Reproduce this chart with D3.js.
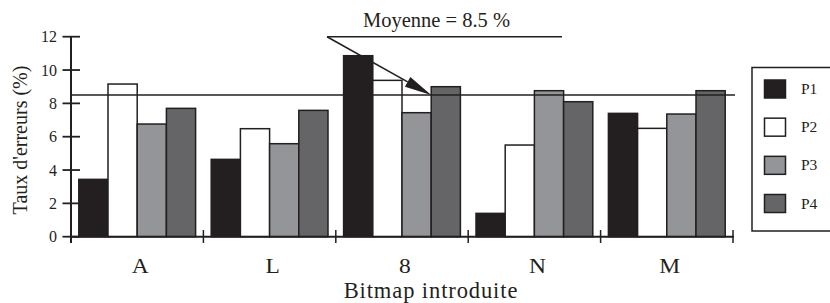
<!DOCTYPE html>
<html>
<head>
<meta charset="utf-8">
<script src="https://cdn.jsdelivr.net/npm/d3@7"></script>
<style>
  html, body { margin: 0; padding: 0; background: #fff; }
  svg { display: block; }
  svg text { font-family: "Liberation Serif", "Times New Roman", Times, "DejaVu Serif", serif !important; fill: #231f20; }
</style>
</head>
<body>
<svg id="chart" width="830" height="303"></svg>
<script>
// ---- Data ----
const categories = ["A", "L", "8", "N", "M"];
const seriesNames = ["P1", "P2", "P3", "P4"];
const P1 = [3.44, 4.64, 10.86, 1.40, 7.40];
const P2 = [9.16, 6.48, 9.38, 5.50, 6.50];
const P3 = [6.76, 5.58, 7.44, 8.76, 7.36];
const P4 = [7.70, 7.58, 9.00, 8.10, 8.76];
const yTicks = [0, 2, 4, 6, 8, 10, 12];
const meanValue = 8.5;
const meanLabel = "Moyenne = 8.5 %";
const xTitle = "Bitmap introduite";
const yTitle = "Taux d'erreurs (%)";

const seriesValues = [P1, P2, P3, P4];
const colors = ["#231f20", "#ffffff", "#949598", "#656567"];
const ink = "#231f20";
const serif = "'Liberation Serif', 'Times New Roman', Times, serif";

const svg = d3.select("#chart");

const x0 = d3.scaleBand().domain(categories).range([71, 733]).padding(0);
const groupPad = 7.8;
const x1 = d3.scaleBand().domain(seriesNames)
  .range([groupPad, x0.bandwidth() - groupPad]).padding(0);
const y = d3.scaleLinear().domain([0, 12]).range([236.7, 36.7]);

// Bars
const rows = categories.map((c, i) => ({
  cat: c,
  vals: seriesNames.map((s, j) => ({ s, v: seriesValues[j][i], color: colors[j] }))
}));
const g = svg.append("g");
const grp = g.selectAll("g.cat").data(rows).join("g")
  .attr("transform", d => `translate(${x0(d.cat)},0)`);
grp.selectAll("rect").data(d => d.vals).join("rect")
  .attr("x", d => x1(d.s))
  .attr("y", d => y(d.v))
  .attr("width", x1.bandwidth())
  .attr("height", d => y(0) - y(d.v))
  .attr("fill", d => d.color)
  .attr("stroke", ink)
  .attr("stroke-width", 1.5);

// Mean line
svg.append("line")
  .attr("x1", 71).attr("x2", 735)
  .attr("y1", y(meanValue)).attr("y2", y(meanValue))
  .attr("stroke", ink).attr("stroke-width", 1.6);

// Y axis
const yAxis = d3.axisLeft(y).tickValues(yTicks).tickSize(0).tickPadding(14);
const ya = svg.append("g").attr("transform", "translate(71,0)").call(yAxis)
  .attr("font-family", serif).attr("font-size", 16);
ya.select(".domain").remove();
ya.selectAll("text").attr("fill", ink);
svg.append("g").selectAll("line").data(yTicks).join("line")
  .attr("x1", 62.5).attr("x2", 80)
  .attr("y1", d => y(d)).attr("y2", d => y(d))
  .attr("stroke", ink).attr("stroke-width", 1.8);
svg.append("line").attr("x1", 71).attr("x2", 71)
  .attr("y1", y(12) - 0.5).attr("y2", 243)
  .attr("stroke", ink).attr("stroke-width", 2);

// X axis
svg.append("line").attr("x1", 71).attr("x2", 734)
  .attr("y1", y(0)).attr("y2", y(0))
  .attr("stroke", ink).attr("stroke-width", 2);
const bounds = categories.slice(1).map(c => x0(c)).concat([x0.range()[1]]);
svg.append("g").selectAll("line").data(bounds).join("line")
  .attr("x1", d => d).attr("x2", d => d)
  .attr("y1", 230).attr("y2", 243)
  .attr("stroke", ink).attr("stroke-width", 1.5);
svg.append("g").attr("font-family", serif).selectAll("text").data(categories).join("text")
  .attr("x", d => x0(d) + x0.bandwidth() / 2 + 3)
  .attr("y", 273)
  .attr("text-anchor", "middle")
  .attr("font-size", 21)
  .attr("transform", d => `translate(${x0(d) + x0.bandwidth() / 2 + 3},273) scale(1.12,1) translate(${-(x0(d) + x0.bandwidth() / 2 + 3)},-273)`)
  .text(d => d);

// Axis titles
svg.append("text").attr("x", 431).attr("y", 298).attr("font-family", serif)
  .attr("text-anchor", "middle").attr("font-size", 22.5)
  .attr("letter-spacing", 0.9).text(xTitle);
svg.append("text").attr("font-family", serif)
  .attr("transform", "translate(27,140) rotate(-90)")
  .attr("text-anchor", "middle").attr("font-size", 20).text(yTitle);

// Annotation
const tipX = x0("8") + x1("P4");
const tipY = y(meanValue);
const startX = 327, startY = y(12);
svg.append("line").attr("x1", startX).attr("x2", 562)
  .attr("y1", startY).attr("y2", startY)
  .attr("stroke", ink).attr("stroke-width", 1.6);
const ang = Math.atan2(tipY - startY, tipX - startX);
const headLen = 27, headHalf = 5.5;
const bx = tipX - headLen * Math.cos(ang), by = tipY - headLen * Math.sin(ang);
svg.append("line").attr("x1", startX).attr("y1", startY)
  .attr("x2", bx).attr("y2", by)
  .attr("stroke", ink).attr("stroke-width", 1.6);
svg.append("path")
  .attr("d", d3.line()([
    [tipX, tipY],
    [bx - headHalf * Math.sin(ang), by + headHalf * Math.cos(ang)],
    [bx + headHalf * Math.sin(ang), by - headHalf * Math.cos(ang)]
  ]) + "Z")
  .attr("fill", ink);
svg.append("text").attr("x", 436.5).attr("y", 27).attr("font-family", serif)
  .attr("text-anchor", "middle").attr("font-size", 20.5).text(meanLabel);

// Legend
const lg = svg.append("g").attr("font-family", serif);
lg.append("rect").attr("x", 752).attr("y", 67.5)
  .attr("width", 120).attr("height", 163.5)
  .attr("fill", "#fff").attr("stroke", ink).attr("stroke-width", 1.5);
const ly = d3.scalePoint().domain(seriesNames).range([80, 194.5]);
lg.selectAll("rect.sw").data(seriesNames).join("rect").attr("class", "sw")
  .attr("x", 764.5).attr("y", d => ly(d))
  .attr("width", 21).attr("height", 18)
  .attr("fill", (d, i) => colors[i])
  .attr("stroke", ink).attr("stroke-width", 1.5);
lg.selectAll("text").data(seriesNames).join("text")
  .attr("x", 801).attr("y", d => ly(d) + 14)
  .attr("font-size", 15.5)
  .text(d => d);
</script>
</body>
</html>
